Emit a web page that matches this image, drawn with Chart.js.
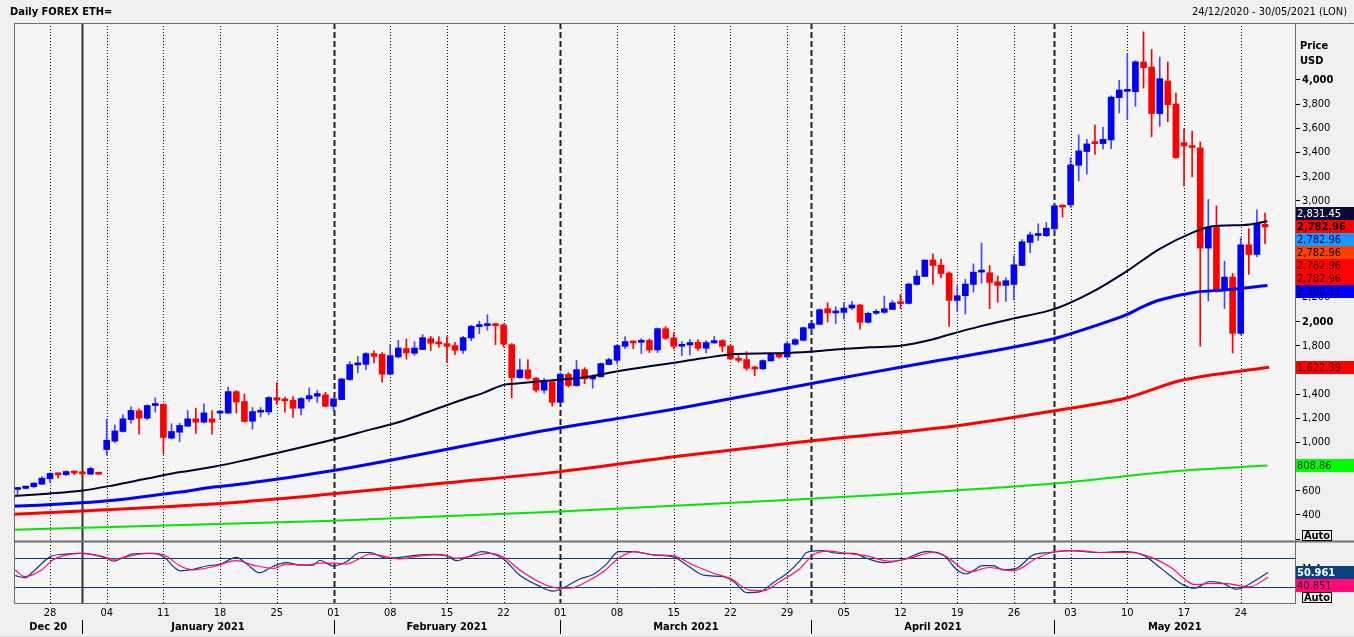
<!DOCTYPE html>
<html><head><meta charset="utf-8">
<script src="https://cdn.jsdelivr.net/npm/chart.js@4.4.0/dist/chart.umd.min.js"></script>
<style>html,body{margin:0;padding:0;background:#f0f0f0;overflow:hidden}#wrap{position:relative;width:1354px;height:637px}canvas{display:block}</style>
</head><body><div id="wrap"><canvas id="c" width="1354" height="637"></canvas></div>
<script>
// ---- DATA (day index 0 = 24 Dec 2020) ----
const opens  = [611,620,634,655,700,741,733,757,749,738,749,942,1011,1091,1190,1262,1201,1306,1317,1036,1085,1135,1196,1168,1196,1243,1243,1421,1339,1176,1251,1253,1372,1355,1350,1284,1361,1383,1394,1300,1355,1521,1642,1647,1736,1730,1565,1708,1777,1738,1769,1860,1826,1818,1802,1763,1865,1959,1967,1978,1973,1810,1537,1601,1532,1433,1504,1333,1565,1471,1603,1526,1543,1645,1680,1796,1835,1829,1846,1766,1942,1866,1796,1807,1829,1780,1824,1843,1799,1691,1686,1620,1609,1675,1730,1708,1813,1846,1945,1978,2107,2072,2077,2113,2138,1995,2069,2077,2101,2157,2151,2308,2374,2510,2468,2402,2176,2215,2308,2410,2405,2330,2300,2308,2465,2656,2713,2711,2769,2959,2967,3294,3408,3482,3474,3504,3854,3906,3903,4149,4107,3722,3992,3801,3482,3452,3438,2609,2779,2259,2369,1903,2636,2556,2807];
const highs  = [628,641,667,717,748,747,766,764,755,797,752,1190,1146,1230,1296,1279,1312,1370,1320,1155,1160,1264,1284,1320,1265,1265,1459,1430,1402,1290,1290,1380,1496,1375,1380,1372,1452,1430,1416,1369,1532,1669,1713,1744,1758,1744,1808,1846,1857,1835,1893,1879,1876,1876,1830,1879,1970,2005,2057,1986,1981,1820,1690,1686,1540,1532,1510,1579,1579,1680,1620,1560,1658,1697,1808,1876,1840,1860,1857,1948,1959,1907,1835,1851,1851,1843,1879,1851,1802,1719,1752,1631,1683,1741,1741,1840,1860,1956,1995,2107,2157,2124,2157,2168,2143,2080,2102,2212,2174,2223,2319,2424,2512,2561,2515,2413,2297,2350,2479,2650,2465,2377,2363,2545,2680,2741,2810,2821,2967,2967,3357,3545,3509,3627,3608,3870,3998,4219,4159,4399,4253,4190,4149,3892,3595,3578,3488,3012,2958,2501,2399,2694,2769,2925,2898];
const lows   = [562,617,628,650,670,705,728,733,730,735,733,898,1000,1086,1160,1069,1190,1251,906,1030,1006,1130,1075,1163,1069,1190,1240,1245,1169,1110,1212,1229,1317,1251,1207,1229,1339,1331,1295,1262,1355,1515,1576,1603,1658,1499,1559,1700,1689,1721,1769,1761,1788,1664,1727,1738,1843,1901,1929,1810,1790,1369,1530,1521,1416,1408,1300,1328,1460,1466,1488,1449,1543,1645,1653,1777,1777,1736,1744,1744,1852,1774,1719,1725,1763,1741,1821,1752,1686,1664,1598,1553,1606,1675,1697,1697,1805,1840,1920,1978,1998,1984,2022,2099,1937,1987,2060,2069,2099,2107,2146,2303,2374,2308,2363,1961,2085,2063,2245,2319,2107,2162,2168,2179,2463,2570,2672,2705,2749,2865,2945,3165,3220,3385,3429,3432,3727,3672,3782,3934,3530,3616,3655,3350,3124,3198,1797,2171,2245,2110,1741,1890,2391,2537,2646];
const closes = [623,639,664,705,744,733,760,747,741,785,738,1019,1096,1196,1265,1201,1306,1317,1041,1091,1141,1196,1168,1245,1168,1251,1421,1335,1174,1256,1256,1372,1350,1344,1284,1364,1388,1405,1300,1361,1526,1645,1653,1736,1713,1565,1719,1782,1741,1782,1868,1821,1816,1796,1763,1868,1962,1970,1978,1967,1813,1537,1601,1532,1433,1510,1333,1565,1471,1603,1526,1548,1653,1686,1802,1835,1824,1846,1766,1942,1862,1796,1807,1827,1780,1827,1843,1796,1691,1680,1614,1609,1678,1730,1708,1818,1851,1950,1984,2099,2072,2080,2113,2138,1995,2069,2085,2107,2156,2149,2311,2377,2510,2465,2399,2176,2215,2311,2410,2421,2325,2300,2339,2471,2661,2719,2722,2774,2959,2948,3297,3413,3471,3473,3509,3859,3917,3914,4151,4102,3722,4011,3796,3358,3454,3441,2609,2779,2259,2369,1903,2636,2556,2813,2783];

// moving averages: [day index, value]
const maBlackDays = [-0.5,3.7,7.8,11.9,16,20.1,24.2,27.9,39,43.9,46.8,50.9,54.6,57.5,60,61.6,65.7,69.8,73.9,78,81.7,84.6,88.7,92.8,96.9,101,105.2,108.8,112.8,114.7,118.8,122.9,127,128.7,132.8,136.9,141,145.2,147.2,149.2,151.3,154.3];
const maBlack     = [556,576,600,647,702,755,799,851,1025,1113,1163,1259,1347,1411,1477,1488,1513,1537,1587,1631,1667,1697,1733,1738,1747,1769,1788,1799,1851,1887,1961,2025,2085,2121,2250,2416,2603,2741,2785,2796,2799,2831];
const maBlueDays  = [-0.5,3.7,7.8,11.9,16,20.1,24.2,27.9,39,67,73.9,81.7,101,108.8,127.8,128.7,132.8,136.9,139,141,145.2,149.2,154.3];
const maBlue      = [474,485,501,523,556,590,631,658,768,1122,1196,1284,1526,1620,1857,1873,1961,2058,2127,2179,2242,2264,2300];
const maRedDays   = [-0.5,13.5,28,39,53,67,81,98,116,128,137,143.5,154.5];
const maRed       = [405,451,510,575,667,759,882,1014,1139,1262,1370,1511,1622];
const maGreenDays = [-0.5,39,67,98,128,143.5,154.3];
const maGreen     = [278,353,428,535,661,766,809];

// stochastic (%K dark blue, %D pink)
const stochKDays = [-0.3,0.9,1.9,4.0,6.1,7.7,9.4,11,11.8,14.3,16.8,18,20.1,21.7,23.3,25,27,28.3,29.9,31.6,33.2,34.9,36.5,37.3,39,40.6,42.3,43.5,45.6,47.2,49.7,51.3,53,54.2,55.9,57.3,58.7,60,62,64.1,66.1,67.4,69.4,71.1,72.7,74.2,76,78.5,81,82.6,84.7,87.1,88.4,90,91.7,93.3,95,96.6,97.4,99.1,101.5,103.2,104.8,106.9,109.3,112.2,114.3,115.9,117.1,119.2,120.4,121.7,123.3,125.4,127.4,129.9,133.2,136.5,138.9,141.4,143.9,145.3,147.2,148.8,150.5,152.1,154.4];
const stochK     = [44,40,52,83,89,90,87,80,74,89,90,83,54,57,64,68,82,68,50,64,71,66,66,76,64,73,92,92,80,82,87,88,85,75,85,94,89,78,45,25,12,19,37,47,68,94,94,87,83,66,45,42,32,9,11,30,49,75,92,96,90,90,80,71,77,94,87,57,48,65,65,56,59,87,92,96,92,94,87,56,25,18,32,28,16,27,50.961];
const stochDDays = [-0.3,0.9,2.8,4.4,6.1,8.1,10.2,11.8,13.5,15.9,18,20.1,21.7,24.2,27,29.1,31.6,33.2,35.7,37.3,39,40.6,42.3,43.5,45.6,47.2,49.7,51.3,53,54.2,56.3,58.3,60,62,64.5,67,68.2,70.3,72.3,74.2,76,78.5,81,83.4,85.9,88,90.4,92.1,94.1,96.6,98.2,99.9,102.4,104.8,107.7,110.1,113,114.7,117.5,120,122.9,125.8,128.2,130.7,134,137.3,139.8,142.2,145.5,147.2,149.6,152.1,154.4];
const stochD     = [56,42,54,77,87,90,85,78,83,90,87,64,56,63,75,66,59,68,66,70,70,68,80,89,83,79,85,87,85,80,85,90,82,56,30,18,18,32,52,80,94,87,85,66,49,38,14,13,32,59,87,95,90,85,74,80,92,83,52,61,54,80,94,96,92,92,83,63,25,28,27,21,40.851];

// axis / labels
const priceTicks = [200,400,600,800,1000,1200,1400,1600,1800,2000,2200,2400,2600,2800,3000,3200,3400,3600,3800,4000];
const boldTicks = [2000,4000];
const stochLevels = [20,80];
const weekDays   = [4,11,18,25,32,39,46,53,60,67,74,81,88,95,102,109,116,123,130,137,144,151];
const weekLabels = ['28','04','11','18','25','01','08','15','22','01','08','15','22','29','05','12','19','26','03','10','17','24'];
const monthStartDays = [39,67,98,128];
const yearStartDay = 8;
const monthLabels = ['Dec 20','January 2021','February 2021','March 2021','April 2021','May 2021'];
const lastPriceLabels = [2831.45,2782.96,2782.96,2782.96,2782.96,2782.96,2300.11];
const ma100Label = 1622.39, ma200Label = 808.86;
const stochLabels = [50.961, 40.851];

// ---- STYLE ----
const FAM = '"DejaVu Sans Condensed","DejaVu Sans",sans-serif';
const fnt = (w) => `${w} 11px ${FAM}`;
const UP = '#0000ff', DOWN = '#ff0000', UPWICK = '#4646ff';
const boxStyles = [
  {bg:'#0a0a38', fg:'#ffffff', w:'normal'},
  {bg:'#ff0000', fg:'#000000', w:'bold'},
  {bg:'#1e96ff', fg:'#0a0a38', w:'normal'},
  {bg:'#ff4000', fg:'#000000', w:'normal'},
  {bg:'#ff0000', fg:'#300000', w:'normal'},
  {bg:'#ff0000', fg:'#300000', w:'normal'},
  {bg:'#0000ff', fg:'#000040', w:'normal'}
];
const fmt = (v, d) => v.toLocaleString('en-US', {minimumFractionDigits:d, maximumFractionDigits:d});

const pts = (xs, ys) => xs.map((d, i) => ({x: d, y: ys[i]}));
const isUp = (i) => closes[i] >= opens[i];

const decor = {
  id: 'decor',
  beforeDraw(chart) {
    const {ctx, chartArea: a, scales: {x, y2}} = chart;
    ctx.save();
    ctx.fillStyle = '#f0f0f0'; ctx.fillRect(0, 0, chart.width, chart.height);
    ctx.fillStyle = '#f5f5f5'; ctx.fillRect(a.left, a.top, a.right - a.left, a.bottom - a.top);
    const vline = (d, y0, y1) => { const px = Math.round(x.getPixelForValue(d)) + 0.5; ctx.beginPath(); ctx.moveTo(px, y0); ctx.lineTo(px, y1); ctx.stroke(); };
    ctx.strokeStyle = '#000'; ctx.lineWidth = 1; ctx.setLineDash([1, 2]);
    weekDays.forEach(d => { if (!monthStartDays.includes(d)) vline(d, a.top, a.bottom); });
    ctx.strokeStyle = '#222'; ctx.lineWidth = 2; ctx.setLineDash([6, 3]);
    monthStartDays.forEach(d => vline(d, a.top, a.bottom));
    ctx.setLineDash([]); ctx.strokeStyle = '#333';
    vline(yearStartDay, a.top, a.bottom);
    // stochastic level lines
    ctx.strokeStyle = '#0b3d7a'; ctx.lineWidth = 1;
    stochLevels.forEach(v => { const py = Math.round(y2.getPixelForValue(v)) + 0.5; ctx.beginPath(); ctx.moveTo(a.left, py); ctx.lineTo(a.right, py); ctx.stroke(); });
    ctx.restore();
  },
  afterDraw(chart) {
    const {ctx, chartArea: a, scales: {x, y, y2}} = chart;
    ctx.save();
    // separator between panels
    const sepY = 541.5;
    ctx.fillStyle = '#f0f0f0';
    ctx.strokeStyle = '#6e6e6e'; ctx.lineWidth = 2;
    ctx.beginPath(); ctx.moveTo(a.left, sepY); ctx.lineTo(chart.width, sepY); ctx.stroke();
    ctx.lineWidth = 1;
    ctx.beginPath();
    ctx.moveTo(a.left + 0.5, a.top); ctx.lineTo(a.left + 0.5, a.bottom);
    ctx.moveTo(a.right + 0.5, a.top); ctx.lineTo(a.right + 0.5, a.bottom);
    ctx.moveTo(a.left, a.top + 0.5); ctx.lineTo(chart.width, a.top + 0.5);
    ctx.moveTo(a.left, a.bottom + 0.5); ctx.lineTo(a.right + 1, a.bottom + 0.5);
    ctx.stroke();
    ctx.strokeStyle = '#d8d8d8';
    ctx.beginPath(); ctx.moveTo(0, 636.5); ctx.lineTo(chart.width, 636.5); ctx.stroke();

    // titles
    ctx.fillStyle = '#000'; ctx.textBaseline = 'middle';
    ctx.font = fnt('bold'); ctx.textAlign = 'left';
    ctx.fillText('Daily FOREX ETH=', 10, 12);
    ctx.font = fnt('normal'); ctx.textAlign = 'right';
    ctx.fillText('24/12/2020 - 30/05/2021 (LON)', 1347, 12);
    ctx.font = fnt('bold'); ctx.textAlign = 'left';
    ctx.fillText('Price', 1300, 46);
    ctx.fillText('USD', 1300, 61);

    // last-value boxes
    const bx = a.right + 1, bw = chart.width - bx, bh = 13;
    const box = (v, dec, cy, st) => {
      ctx.fillStyle = st.bg; ctx.fillRect(bx, Math.round(cy - bh / 2), bw, bh);
      ctx.fillStyle = st.fg; ctx.font = fnt(st.w); ctx.textAlign = 'left';
      ctx.fillText(fmt(v, dec), bx + 1, Math.round(cy - bh / 2) + 7);
    };
    const mainY = y.getPixelForValue(closes[closes.length - 1]) - 1;
    lastPriceLabels.forEach((v, k) => box(v, 2, mainY + (k - 1) * bh, boxStyles[k]));
    box(ma100Label, 2, y.getPixelForValue(ma100Label), {bg:'#ff0000', fg:'#300000', w:'normal'});
    box(ma200Label, 2, y.getPixelForValue(ma200Label), {bg:'#00ff00', fg:'#003000', w:'normal'});

    // stochastic labels
    ctx.fillStyle = '#000'; ctx.font = fnt('bold'); ctx.textAlign = 'left';
    ctx.fillText('Value', 1303, 569);
    const sY = y2.getPixelForValue(stochLabels[0]);
    box(stochLabels[0], 3, sY, {bg:'#0b4080', fg:'#ffffff', w:'bold'});
    box(stochLabels[1], 3, sY + bh, {bg:'#ff0a78', fg:'#300010', w:'normal'});

    // Auto boxes
    const auto = (top) => {
      ctx.fillStyle = '#f0f0f0'; ctx.fillRect(1302, top, 30, 11);
      ctx.strokeStyle = '#000'; ctx.lineWidth = 1; ctx.strokeRect(1302.5, top + 0.5, 29, 10);
      ctx.fillStyle = '#000'; ctx.font = fnt('bold'); ctx.textAlign = 'center';
      ctx.fillText('Auto', 1317, top + 6);
    };
    auto(530); auto(592);

    // x axis labels
    ctx.fillStyle = '#000'; ctx.textAlign = 'center'; ctx.font = fnt('normal');
    weekDays.forEach((d, i) => ctx.fillText(weekLabels[i], x.getPixelForValue(d), 613));
    const bounds = [x.min, yearStartDay, ...monthStartDays, x.max];
    ctx.font = fnt('bold');
    monthLabels.forEach((m, i) => {
      const cx = (x.getPixelForValue(bounds[i]) + x.getPixelForValue(bounds[i + 1])) / 2;
      ctx.fillText(m, cx, 627);
    });
    ctx.strokeStyle = '#000'; ctx.lineWidth = 1;
    [yearStartDay, ...monthStartDays].forEach(d => {
      const px = Math.round(x.getPixelForValue(d)) + 0.5;
      ctx.beginPath(); ctx.moveTo(px, 620); ctx.lineTo(px, 634); ctx.stroke();
    });
    ctx.restore();
  }
};

const lineDs = (data, color, width, axis) => ({
  type: 'line', data, borderColor: color, borderWidth: width, pointRadius: 0,
  cubicInterpolationMode: 'monotone', yAxisID: axis || 'y', order: 0
});

new Chart(document.getElementById('c'), {
  type: 'bar',
  data: {
    datasets: [
      lineDs(pts(maGreenDays, maGreen), '#00e800', 2),
      lineDs(pts(maRedDays, maRed), '#ff0000', 3),
      lineDs(pts(maBlueDays, maBlue), '#0000ff', 3),
      lineDs(pts(maBlackDays, maBlack), '#000033', 2),
      lineDs(pts(stochDDays, stochD), '#ff0a78', 1.2, 'y2'),
      lineDs(pts(stochKDays, stochK), '#0b3d7a', 1.2, 'y2'),
      {
        type: 'bar', order: 2, grouped: false, barThickness: 1,
        data: highs.map((h, i) => ({x: i, y: [lows[i], h]})),
        backgroundColor: (c) => isUp(c.dataIndex) ? UPWICK : DOWN
      },
      {
        type: 'bar', order: 1, grouped: false, barThickness: 6, minBarLength: 2,
        data: opens.map((o, i) => ({x: i, y: [o, closes[i]]})),
        backgroundColor: (c) => isUp(c.dataIndex) ? UP : DOWN
      }
    ]
  },
  options: {
    responsive: false, animation: false, events: [],
    layout: {padding: {left: 14, top: 23, right: 0, bottom: 34}},
    plugins: {legend: {display: false}, tooltip: {enabled: false}},
    scales: {
      x: {type: 'linear', min: -0.444, max: 157.7, offset: false, display: false},
      y: {
        type: 'linear', position: 'right', min: -328.3, max: 4471.7,
        afterBuildTicks: (s) => { s.ticks = priceTicks.map(v => ({value: v})); },
        afterFit: (s) => { s.width = 59; },
        border: {display: false},
        grid: {drawOnChartArea: false, drawTicks: true, tickLength: 5, color: '#000', lineWidth: 1},
        ticks: {
          padding: 2, color: '#000', autoSkip: false,
          callback: (v) => v < 400 ? '' : fmt(v, 0),
          font: (c) => ({family: FAM, size: 11, weight: c.tick && boldTicks.includes(c.tick.value) ? 'bold' : 'normal'})
        }
      },
      y2: {type: 'linear', display: false, min: -12.5, max: 1187.5}
    }
  },
  plugins: [decor]
});
</script>
</body></html>
